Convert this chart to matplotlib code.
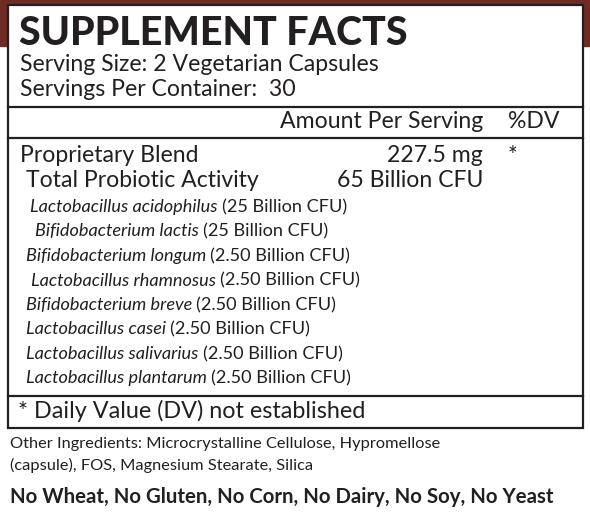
import matplotlib.pyplot as plt
from matplotlib.patches import Rectangle

plt.rcParams['font.family'] = ['Lato', 'DejaVu Sans']

W, H = 590, 519
title = "SUPPLEMENT FACTS"
serving_lines = ["Serving Size: 2 Vegetarian Capsules", "Servings Per Container:  30"]
blend = ("Proprietary Blend", "227.5 mg", "*")
probiotic = ("Total Probiotic Activity", "65 Billion CFU")
strains = ["Lactobacillus acidophilus", "Bifidobacterium lactis", "Bifidobacterium longum",
           "Lactobacillus rhamnosus", "Bifidobacterium breve", "Lactobacillus casei",
           "Lactobacillus salivarius", "Lactobacillus plantarum"]
strain_cfu = ["25", "25", "2.50", "2.50", "2.50", "2.50", "2.50", "2.50"]
strain_x = [30, 35, 26, 31, 26, 26, 26, 26]
footnote = "* Daily Value (DV) not established"
other = ["Other Ingredients: Microcrystalline Cellulose, Hypromellose",
         "(capsule), FOS, Magnesium Stearate, Silica"]
allergens = "No Wheat, No Gluten, No Corn, No Dairy, No Soy, No Yeast"

fig = plt.figure(figsize=(W / 100, H / 100), dpi=100)
ax = fig.add_axes([0, 0, 1, 1])
ax.set_xlim(0, W)
ax.set_ylim(H, 0)
ax.axis('off')

red = '#6e2a24'
ax.add_patch(Rectangle((0, 0), W, 46, color=red, zorder=0))
ax.add_patch(Rectangle((8, 5), 575, 423, facecolor='white', edgecolor='#231f20', lw=1.6, zorder=1))
for y in (107, 138, 396):
    ax.plot([8, 583], [y, y], color='#231f20', lw=1.6, zorder=2)

k = '#231f20'
big = 16.6
ax.text(19, 45, title, fontsize=28.4, fontweight='black', color=k, va='baseline', zorder=3)
for i, s in enumerate(serving_lines):
    ax.text(20, 71 + i * 25, s, fontsize=big, color=k, va='baseline', zorder=3)
ax.text(483, 128, "Amount Per Serving", fontsize=big, color=k, ha='right', va='baseline', zorder=3)
ax.text(508, 128, "%DV", fontsize=big, color=k, va='baseline', zorder=3)
ax.text(20, 162, blend[0], fontsize=big, color=k, va='baseline', zorder=3)
ax.text(483, 162, blend[1], fontsize=big, color=k, ha='right', va='baseline', zorder=3)
ax.text(508, 162, blend[2], fontsize=big, color=k, va='baseline', zorder=3)
ax.text(26, 187, probiotic[0], fontsize=big, color=k, va='baseline', zorder=3)
ax.text(483, 187, probiotic[1], fontsize=big, color=k, ha='right', va='baseline', zorder=3)

small = 13.1
for i, (name, cfu, x) in enumerate(zip(strains, strain_cfu, strain_x)):
    y = 212 + i * 24.5
    t = ax.text(x, y, name + " ", fontsize=small, style='italic', color=k, va='baseline', zorder=3)
    fig.canvas.draw()
    bb = t.get_window_extent()
    xe = ax.transData.inverted().transform((bb.x1, 0))[0]
    ax.text(xe, y, f"({cfu} Billion CFU)", fontsize=small, color=k, va='baseline', zorder=3)

ax.text(18, 418, footnote, fontsize=16.8, color=k, va='baseline', zorder=3)
for i, s in enumerate(other):
    ax.text(10, 448 + i * 22, s, fontsize=11.8, color=k, va='baseline', zorder=3)
ax.text(10, 503, allergens, fontsize=14.7, fontweight='bold', color=k, va='baseline', zorder=3)

fig.savefig('out.png', dpi=100)
